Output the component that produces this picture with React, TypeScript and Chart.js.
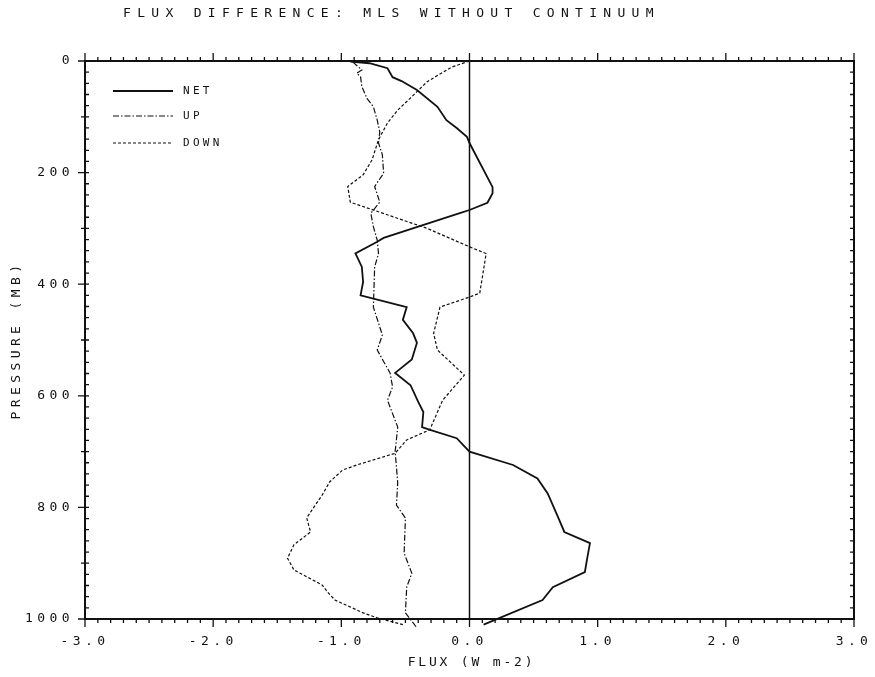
import React, { useEffect, useRef } from "react";
import { Chart, registerables } from "chart.js";

Chart.register(...registerables);

const NET_P = [1, 4, 13, 29, 36, 52, 82, 106, 120, 136, 147, 226, 237, 254, 267, 272, 317, 324, 345, 369, 396, 420, 441, 464, 488, 505, 535, 559, 581, 611, 629, 656, 660, 676, 700, 724, 748, 775, 817, 844, 864, 889, 916, 943, 966, 1010];
const NET_X = [-0.93, -0.78, -0.64, -0.6, -0.53, -0.41, -0.25, -0.18, -0.1, -0.02, 0.0, 0.18, 0.18, 0.14, 0.0, -0.07, -0.67, -0.72, -0.89, -0.84, -0.83, -0.85, -0.49, -0.52, -0.44, -0.41, -0.45, -0.58, -0.46, -0.4, -0.36, -0.37, -0.32, -0.1, 0.0, 0.34, 0.53, 0.61, 0.69, 0.74, 0.94, 0.92, 0.9, 0.65, 0.57, 0.11];

const UP_P = [2, 16, 22, 28, 46, 67, 82, 106, 127, 147, 168, 201, 225, 253, 273, 297, 321, 345, 369, 441, 491, 518, 559, 584, 608, 656, 700, 756, 796, 819, 882, 918, 943, 989, 1016];
const UP_X = [-0.91, -0.84, -0.88, -0.85, -0.84, -0.8, -0.75, -0.72, -0.7, -0.71, -0.68, -0.67, -0.74, -0.7, -0.77, -0.75, -0.72, -0.71, -0.74, -0.75, -0.68, -0.72, -0.62, -0.6, -0.64, -0.56, -0.58, -0.56, -0.57, -0.5, -0.51, -0.45, -0.49, -0.5, -0.41];

const DOWN_P = [0, 11, 37, 64, 88, 111, 141, 177, 204, 225, 253, 300, 333, 345, 416, 423, 441, 488, 518, 563, 608, 661, 679, 703, 724, 733, 754, 778, 805, 819, 844, 867, 891, 912, 939, 951, 966, 989, 998, 1010];
const DOWN_X = [0.0, -0.14, -0.33, -0.45, -0.56, -0.64, -0.71, -0.76, -0.83, -0.95, -0.93, -0.33, 0.0, 0.13, 0.08, 0.0, -0.23, -0.28, -0.25, -0.04, -0.21, -0.31, -0.49, -0.58, -0.88, -0.99, -1.09, -1.15, -1.23, -1.27, -1.24, -1.37, -1.42, -1.37, -1.15, -1.11, -1.05, -0.83, -0.72, -0.52];

const SERIES_NAMES = ["NET", "UP", "DOWN"];
const TITLE = "FLUX DIFFERENCE: MLS WITHOUT CONTINUUM";
const X_TITLE = "FLUX (W m-2)";
const Y_TITLE = "PRESSURE (MB)";

const INK = "#111";
const FONT_FAMILY = "'DejaVu Sans Mono', 'Liberation Mono', monospace";
const DASHES: number[][] = [[], [6, 2, 1.5, 2], [3, 2]];
const WIDTHS = [1.8, 1.2, 1.2];

const toPoints = (xs: number[], ps: number[]) => xs.map((x, i) => ({ x, y: ps[i] }));

const framePlugin = {
  id: "frame",
  beforeUpdate(chart: any) {
    chart.ctx.letterSpacing = "4.4px";
  },
  beforeDraw(chart: any) {
    const ctx = chart.ctx;
    ctx.letterSpacing = "4.4px";
    ctx.save();
    ctx.fillStyle = "#fff";
    ctx.fillRect(0, 0, chart.width, chart.height);
    ctx.restore();
  },
  afterDatasetsDraw(chart: any) {
    const ctx = chart.ctx;
    const { left, right, top, bottom } = chart.chartArea;
    const xs = chart.scales.x;
    const ys = chart.scales.y;
    ctx.save();
    ctx.strokeStyle = INK;
    // zero line
    ctx.lineWidth = 1.5;
    const x0 = xs.getPixelForValue(0);
    ctx.beginPath();
    ctx.moveTo(x0, top);
    ctx.lineTo(x0, bottom);
    ctx.stroke();
    // frame
    ctx.lineWidth = 2;
    ctx.strokeRect(left, top, right - left, bottom - top);
    // x ticks
    ctx.lineWidth = 1.3;
    for (let i = -30; i <= 30; i++) {
      const px = xs.getPixelForValue(i / 10);
      const len = i % 10 === 0 ? 8 : 4;
      ctx.beginPath();
      ctx.moveTo(px, bottom);
      ctx.lineTo(px, bottom + len);
      ctx.moveTo(px, top);
      ctx.lineTo(px, top - len);
      ctx.stroke();
    }
    // y ticks
    for (let v = 0; v <= 1000; v += 20) {
      const py = ys.getPixelForValue(v);
      const out = v % 200 === 0 ? 7 : v % 100 === 0 ? 4 : 0;
      ctx.beginPath();
      ctx.moveTo(left - out, py);
      ctx.lineTo(left + 4, py);
      ctx.moveTo(right, py);
      ctx.lineTo(right - 4, py);
      ctx.stroke();
    }
    ctx.restore();
  },
  afterDraw(chart: any) {
    const ctx = chart.ctx;
    const xs = chart.scales.x;
    ctx.save();
    ctx.fillStyle = INK;
    // title
    ctx.font = `13px ${FONT_FAMILY}`;
    ctx.letterSpacing = "6.3px";
    ctx.textAlign = "left";
    ctx.textBaseline = "middle";
    ctx.fillText(TITLE, 115, 6);
    // x axis title
    ctx.letterSpacing = "2.8px";
    ctx.textAlign = "center";
    ctx.fillText(X_TITLE, xs.getPixelForValue(0) + 2, 655);
    // legend
    ctx.textAlign = "left";
    ctx.font = `11px ${FONT_FAMILY}`;
    ctx.letterSpacing = "3.3px";
    const ly = [83, 108, 135];
    chart.data.datasets.forEach((ds: any, i: number) => {
      ctx.save();
      ctx.strokeStyle = INK;
      ctx.lineWidth = ds.borderWidth;
      ctx.setLineDash(ds.borderDash || []);
      ctx.beginPath();
      ctx.moveTo(105, ly[i]);
      ctx.lineTo(165, ly[i]);
      ctx.stroke();
      ctx.restore();
      ctx.fillText(ds.label, 175, ly[i]);
    });
    ctx.restore();
  },
};

export default function App() {
  const ref = useRef<HTMLCanvasElement | null>(null);
  useEffect(() => {
    if (!ref.current) return;
    const seriesX = [NET_X, UP_X, DOWN_X];
    const seriesP = [NET_P, UP_P, DOWN_P];
    const chart = new Chart(ref.current, {
      type: "line",
      data: {
        datasets: SERIES_NAMES.map((name, i) => ({
          label: name,
          data: toPoints(seriesX[i], seriesP[i]),
          borderColor: INK,
          borderWidth: WIDTHS[i],
          borderDash: DASHES[i],
          pointRadius: 0,
          tension: 0,
          fill: false,
          clip: false as any,
        })),
      },
      options: {
        animation: false,
        responsive: false,
        events: [],
        layout: { padding: { top: 53, right: 13, left: 0, bottom: 0 } },
        plugins: { legend: { display: false }, title: { display: false }, tooltip: { enabled: false } },
        scales: {
          x: {
            type: "linear",
            min: -3,
            max: 3,
            afterFit: (s: any) => {
              s.height = 50;
              s.paddingLeft = 0;
              s.paddingRight = 0;
            },
            grid: { display: false, drawTicks: false },
            border: { display: false },
            ticks: {
              stepSize: 1,
              padding: 15,
              color: INK,
              font: { family: FONT_FAMILY, size: 13 },
              callback: (v: any) => Number(v).toFixed(1),
            },
            title: { display: false },
          },
          y: {
            type: "linear",
            reverse: true,
            min: 0,
            max: 1000,
            afterFit: (s: any) => {
              s.width = 77;
              s.paddingTop = 0;
              s.paddingBottom = 0;
            },
            grid: { display: false, drawTicks: false },
            border: { display: false },
            ticks: {
              stepSize: 200,
              padding: 11,
              color: INK,
              font: { family: FONT_FAMILY, size: 13 },
              callback: (v: any) => String(v),
            },
            title: {
              display: true,
              text: Y_TITLE,
              color: INK,
              font: { family: FONT_FAMILY, size: 13 },
              padding: { top: 1, bottom: 0 },
            },
          },
        },
      },
      plugins: [framePlugin],
    });
    return () => chart.destroy();
  }, []);
  return (
    <div style={{ width: 859, height: 661 }}>
      <canvas ref={ref} width={859} height={661} style={{ display: "block" }} />
    </div>
  );
}
